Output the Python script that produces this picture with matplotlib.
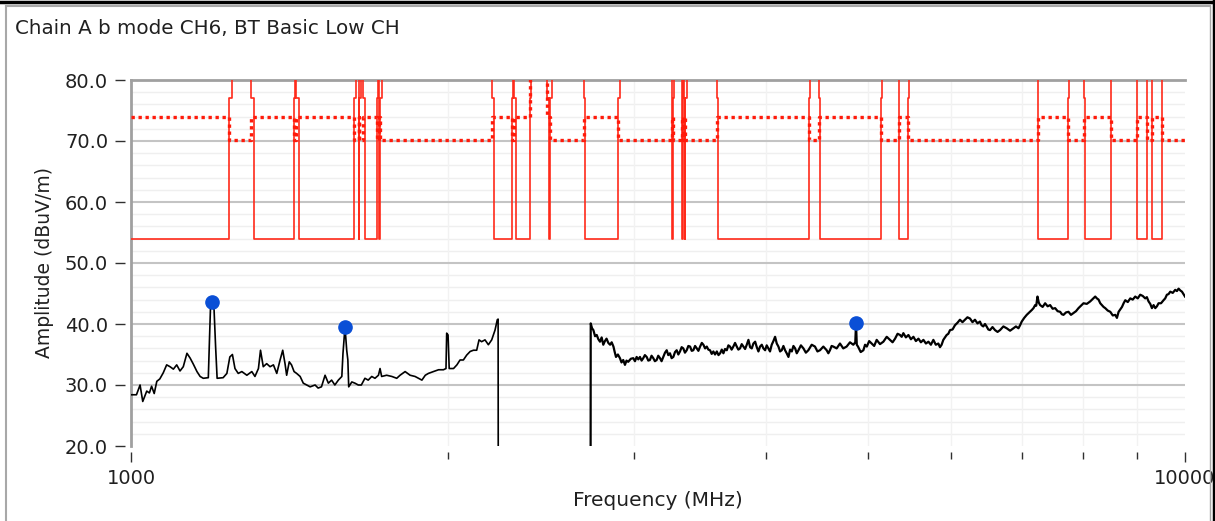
import matplotlib
matplotlib.use("Agg")
import matplotlib.pyplot as plt
import matplotlib.ticker as mticker
from matplotlib.lines import Line2D
import numpy as np

# ---------------- data ----------------
title = "Chain A b mode CH6, BT Basic Low CH"
x_label = "Frequency (MHz)"
y_label = "Amplitude (dBuV/m)"

# measured trace (MHz, dBuV/m), part below the notch
trace_lo = [
    (1001, 28.4), (1012, 28.4), (1020, 30.0), (1026, 27.3), (1035, 29.0), (1041, 28.7),
    (1046, 29.8), (1052, 28.6), (1058, 30.6), (1065, 31.0), (1073, 32.0), (1081, 33.3),
    (1089, 33.0), (1097, 32.6), (1105, 33.3), (1113, 32.3), (1121, 33.0), (1130, 35.2),
    (1138, 34.4), (1146, 33.4), (1155, 32.2), (1163, 31.4), (1171, 31.1), (1184, 31.2),
    (1187, 37.4), (1190, 43.4), (1193, 43.6), (1199, 42.3), (1203, 36.3), (1207, 31.1),
    (1223, 31.2), (1233, 31.9), (1241, 34.6), (1248, 35.0), (1255, 32.7), (1264, 31.9),
    (1274, 32.2), (1288, 31.6), (1302, 32.2), (1311, 31.4), (1321, 32.7), (1327, 35.7),
    (1335, 33.0), (1345, 33.5), (1355, 33.0), (1365, 33.3), (1375, 31.9), (1385, 34.1),
    (1393, 35.7), (1400, 33.5), (1405, 31.6), (1413, 33.8), (1420, 33.3), (1428, 32.2),
    (1436, 31.9), (1447, 31.4), (1457, 30.3), (1468, 30.0), (1479, 29.7), (1495, 30.0),
    (1505, 29.5), (1516, 29.7), (1528, 31.6), (1539, 30.3), (1550, 30.8), (1561, 30.0),
    (1573, 30.8), (1585, 31.4), (1589, 35.2), (1596, 39.5), (1602, 35.7), (1606, 34.1),
    (1609, 29.7), (1620, 30.5), (1631, 30.3), (1643, 30.0), (1654, 30.0), (1667, 31.1),
    (1679, 30.8), (1692, 31.4), (1704, 31.1), (1717, 31.6), (1723, 32.7), (1729, 31.4),
    (1748, 31.6), (1768, 31.4), (1787, 31.1), (1800, 31.6), (1820, 32.2), (1840, 31.6),
    (1860, 31.4), (1874, 31.1), (1888, 30.8), (1902, 31.6), (1915, 31.9), (1936, 32.2),
    (1958, 32.5), (1979, 32.5), (1990, 32.7), (1993, 38.5), (1999, 38.2), (2004, 32.7),
    (2023, 32.7), (2038, 33.3), (2052, 34.1), (2067, 34.1), (2082, 34.9), (2098, 35.5),
    (2113, 35.7), (2128, 35.7), (2139, 37.4), (2151, 37.1), (2167, 37.4), (2183, 36.6),
    (2199, 37.4), (2215, 39.0), (2226, 40.7), (2230, 40.8), (2231, 5.0),
]

# measured trace, part above the notch
trace_hi = [
    (2729, 5.0), (2730, 40.1), (2738, 39.3), (2746, 39.0), (2756, 38.0), (2766, 38.2),
    (2776, 37.5), (2786, 37.1), (2796, 37.8), (2806, 36.6), (2816, 37.2), (2826, 37.6),
    (2837, 36.9), (2848, 36.6), (2858, 37.0), (2869, 36.3), (2877, 35.4), (2885, 34.6),
    (2897, 35.0), (2910, 34.4), (2920, 33.7), (2931, 34.1), (2942, 33.3), (2952, 34.0),
    (2963, 33.8), (2980, 34.3), (2996, 34.4), (3007, 33.9), (3018, 34.6), (3029, 34.2),
    (3040, 34.6), (3051, 34.0), (3062, 34.4), (3073, 34.9), (3085, 34.6), (3096, 34.0),
    (3107, 34.1), (3118, 34.8), (3130, 34.4), (3141, 33.9), (3153, 34.1), (3164, 34.8),
    (3176, 34.4), (3187, 33.9), (3199, 34.6), (3211, 35.3), (3223, 35.7), (3234, 34.9),
    (3246, 35.2), (3258, 34.4), (3270, 34.6), (3282, 35.4), (3294, 35.7), (3306, 35.0),
    (3318, 35.5), (3330, 36.2), (3342, 36.0), (3354, 35.3), (3367, 35.7), (3379, 36.4),
    (3392, 36.3), (3404, 35.6), (3416, 35.7), (3429, 36.4), (3442, 36.0), (3454, 35.6),
    (3467, 36.3), (3480, 36.9), (3492, 36.6), (3505, 36.0), (3518, 36.3), (3530, 35.8),
    (3543, 35.7), (3556, 35.1), (3569, 35.5), (3582, 35.0), (3596, 35.5), (3609, 34.9),
    (3622, 35.2), (3635, 35.8), (3648, 35.2), (3661, 35.9), (3675, 35.7), (3688, 36.5),
    (3701, 36.3), (3714, 35.8), (3728, 36.3), (3742, 36.9), (3756, 36.3), (3769, 35.8),
    (3783, 36.0), (3797, 36.7), (3811, 36.3), (3825, 35.9), (3839, 36.6), (3853, 37.4),
    (3867, 36.2), (3881, 36.0), (3895, 36.8), (3910, 37.1), (3924, 36.2), (3938, 35.5),
    (3952, 36.3), (3967, 36.6), (3981, 36.0), (3996, 35.7), (4010, 36.5), (4025, 36.0),
    (4039, 35.5), (4054, 36.6), (4069, 37.2), (4084, 37.9), (4099, 36.8), (4114, 36.3),
    (4129, 35.5), (4144, 35.7), (4159, 36.4), (4174, 35.7), (4189, 35.2), (4205, 34.6),
    (4220, 35.8), (4236, 35.5), (4251, 36.4), (4267, 36.0), (4282, 35.2), (4298, 35.7),
    (4321, 36.5), (4345, 36.0), (4368, 35.3), (4392, 35.7), (4424, 36.6), (4456, 36.3),
    (4480, 35.5), (4505, 35.7), (4538, 36.3), (4571, 35.7), (4588, 35.2), (4604, 35.7),
    (4621, 36.4), (4638, 36.3), (4672, 36.0), (4706, 36.8), (4740, 36.0), (4775, 36.3),
    (4810, 37.0), (4845, 36.6), (4866, 37.0), (4874, 40.1), (4882, 36.6), (4895, 36.3),
    (4924, 35.4), (4953, 35.7), (4971, 36.6), (4990, 36.3), (5016, 37.2), (5043, 36.8),
    (5071, 36.4), (5099, 37.4), (5136, 36.7), (5174, 37.1), (5212, 37.9), (5250, 37.4),
    (5279, 37.0), (5308, 37.6), (5337, 38.4), (5366, 38.2), (5385, 37.9), (5405, 38.5),
    (5435, 37.8), (5465, 38.2), (5495, 37.5), (5525, 37.9), (5555, 37.2), (5586, 37.6),
    (5616, 37.0), (5647, 37.4), (5678, 36.8), (5709, 37.1), (5740, 36.6), (5771, 37.4),
    (5802, 36.6), (5834, 36.8), (5855, 36.2), (5876, 36.6), (5898, 37.4), (5920, 37.8),
    (5941, 38.2), (5963, 38.4), (5985, 39.0), (6018, 39.1), (6050, 39.8), (6083, 40.2),
    (6116, 40.7), (6150, 40.3), (6183, 40.7), (6217, 41.1), (6252, 40.9), (6286, 40.3),
    (6320, 40.7), (6355, 40.1), (6389, 40.4), (6412, 39.8), (6436, 39.6), (6460, 40.0),
    (6483, 39.6), (6507, 39.1), (6531, 39.0), (6567, 39.5), (6603, 39.0), (6640, 38.7),
    (6676, 39.0), (6725, 39.6), (6774, 39.3), (6824, 38.9), (6874, 39.3), (6912, 39.6),
    (6950, 39.3), (6975, 39.8), (7000, 40.4), (7038, 41.0), (7077, 41.5), (7116, 41.9),
    (7156, 42.3), (7182, 42.6), (7208, 43.1), (7225, 43.0), (7245, 44.5), (7266, 43.5),
    (7287, 43.1), (7327, 42.8), (7367, 43.4), (7408, 42.9), (7448, 43.1), (7489, 42.5),
    (7530, 42.6), (7571, 42.1), (7613, 42.0), (7641, 41.6), (7669, 41.5), (7711, 41.9),
    (7753, 42.0), (7795, 41.5), (7838, 41.8), (7881, 42.1), (7924, 42.6), (7967, 43.0),
    (8011, 43.4), (8070, 43.3), (8129, 43.7), (8174, 44.1), (8219, 44.5), (8249, 44.2),
    (8279, 44.0), (8310, 43.4), (8340, 43.1), (8370, 42.8), (8401, 42.6), (8447, 42.2),
    (8494, 42.0), (8540, 41.4), (8587, 41.5), (8618, 41.0), (8650, 42.0), (8682, 42.4),
    (8714, 42.8), (8745, 43.4), (8777, 43.9), (8825, 43.6), (8873, 44.2), (8921, 44.0),
    (8970, 44.5), (9019, 44.2), (9068, 44.8), (9118, 44.6), (9168, 44.2), (9201, 44.4),
    (9235, 43.7), (9269, 43.3), (9303, 42.6), (9337, 43.1), (9371, 42.6), (9405, 42.9),
    (9439, 43.4), (9490, 43.4), (9542, 43.9), (9577, 44.2), (9612, 44.8), (9647, 44.9),
    (9683, 45.3), (9736, 45.1), (9789, 45.6), (9825, 45.4), (9861, 45.8), (9898, 45.5),
    (9934, 45.3), (9967, 44.9), (10000, 44.5),
]

# peak markers
marker_freq = [1193, 1596, 4874]
marker_amp = [43.6, 39.5, 40.1]

# restricted bands (MHz): limit 54 avg / 74 peak inside
restricted_lo = [960, 1300, 1435, 1645.5, 1660, 1718.8, 2200, 2310, 2483.5, 2690,
                 3260, 3332, 3345.8, 3600, 4500, 5350, 7250, 8025, 9000, 9300]
restricted_hi = [1240, 1427, 1626.5, 1646.5, 1710, 1722.2, 2300, 2390, 2500, 2900,
                 3267, 3339, 3358, 4400, 5150, 5460, 7750, 8500, 9200, 9500]
# band of the fundamental (limits off scale)
fund_band = [2390, 2483.5]

avg_restricted, avg_open, avg_edge = 54.0, 100.0, 77.0
pk_restricted, pk_open, pk_fund = 74.0, 70.2, 100.0

f_min, f_max = 1000, 10000
y_min, y_max = 20, 80


def band_state(a, b):
    m = 0.5 * (a + b)
    if any(lo <= m <= hi for lo, hi in zip(restricted_lo, restricted_hi)):
        return "r"
    if fund_band[0] <= m <= fund_band[1]:
        return "f"
    return "o"


edges = sorted(set([f_min, f_max] + [e for e in restricted_lo + restricted_hi + fund_band
                                     if f_min < e < f_max]))
intervals = [(edges[i], edges[i + 1]) for i in range(len(edges) - 1)]
states = [band_state(a, b) for a, b in intervals]


def build(values, edge_level=None, delta=8.0):
    xs, ys = [], []
    prev = None
    for (a, b), s in zip(intervals, states):
        v = values[s]
        if prev is None:
            xs += [a]; ys += [v]
        elif v != prev:
            if edge_level is not None:
                d = min(delta, (b - a) / 2.0)
                xs += [a, a, a + d, a + d]
                ys += [prev, edge_level, edge_level, v]
            else:
                xs += [a, a]
                ys += [prev, v]
        xs += [b]; ys += [v]
        prev = v
    return xs, ys


avg_x, avg_y = build({"r": avg_restricted, "o": avg_open, "f": avg_open}, avg_edge)
pk_x, pk_y = build({"r": pk_restricted, "o": pk_open, "f": pk_fund})

lo_f, lo_a = zip(*trace_lo)
hi_f, hi_a = zip(*trace_hi)

# ---------------- figure ----------------
plt.rcParams['font.family'] = ['DejaVu Sans']
W, H = 1215, 521
fig = plt.figure(figsize=(W / 100, H / 100), dpi=100)
fig.patch.set_facecolor("white")

ax = fig.add_axes([131 / W, 1 - 446 / H, (1185 - 131) / W, (446 - 80) / H])
ax.set_xscale("log")
ax.set_xlim(f_min, f_max)
ax.set_ylim(y_min, y_max)

# grid
for v in np.arange(22, 80, 2):
    if v % 10:
        ax.axhline(v, color="#efefef", lw=1.0, zorder=0)
for v in range(30, 80, 10):
    ax.axhline(v, color="#c4c4c4", lw=1.5, zorder=0.5)
for f in range(2000, 10000, 1000):
    ax.axvline(f, color="#f2f2f2", lw=1.0, zorder=0)
ax.axhline(80, color="#a0a0a0", lw=2.0, zorder=0.6, clip_on=False)
ax.axvline(f_min, color="#a0a0a0", lw=2.0, zorder=0.6, clip_on=False)

# limit lines
ax.plot(avg_x, avg_y, color="#ff2a1a", lw=1.2, zorder=2)
ax.plot(pk_x, pk_y, color="#ff1a0a", lw=2.4, linestyle=(0, (1, 1.1)), zorder=2)

# trace
ax.plot(lo_f, lo_a, color="black", lw=1.2, zorder=3)
ax.plot(hi_f, hi_a, color="black", lw=1.6, zorder=3)
ax.plot(marker_freq, marker_amp, "o", color="#0a4fd6", ms=9.5, mec="#0a4fd6", zorder=4)

# axes / ticks
for s in ["top", "right", "bottom", "left"]:
    ax.spines[s].set_visible(False)
ax.spines["bottom"].set_position(("outward", 4))
ax.spines["left"].set_position(("outward", 4))

ax.yaxis.set_major_locator(mticker.FixedLocator([20, 30, 40, 50, 60, 70, 80]))
ax.yaxis.set_major_formatter(mticker.FormatStrFormatter("%.1f"))
ax.yaxis.set_minor_locator(mticker.NullLocator())
ax.xaxis.set_major_locator(mticker.FixedLocator([1000, 10000]))
ax.xaxis.set_major_formatter(mticker.FixedFormatter(["1000", "10000"]))
ax.xaxis.set_minor_locator(mticker.FixedLocator(list(range(2000, 10000, 1000))))
ax.xaxis.set_minor_formatter(mticker.NullFormatter())

ax.tick_params(axis="y", which="major", length=7.5, width=1.0, color="#303030",
               pad=5, labelsize=14, labelcolor="#202020")
ax.tick_params(axis="x", which="major", length=7.5, width=1.0, color="#303030",
               pad=5, labelsize=14, labelcolor="#202020")
ax.tick_params(axis="x", which="minor", length=5, width=1.0, color="#303030")

ax.set_xlabel(x_label, fontsize=14.5, color="#202020", labelpad=2)
ax.set_ylabel(y_label, fontsize=13.5, color="#202020", labelpad=8)

fig.text(15 / W, 1 - 28 / H, title, fontsize=14.3, color="#202020", va="center", ha="left")

# outer frame
fig.add_artist(Line2D([6 / W, 6 / W], [0, 1 - 6 / H], color="#a8a8a8", lw=1.5))
fig.add_artist(Line2D([6 / W, 1210 / W], [1 - 6 / H, 1 - 6 / H], color="#a8a8a8", lw=1.5))
fig.add_artist(Line2D([1210 / W, 1210 / W], [0, 1 - 6 / H], color="#a8a8a8", lw=1.0))
fig.add_artist(Line2D([1213.5 / W, 1213.5 / W], [0, 1], color="black", lw=2.5))
fig.add_artist(Line2D([0, 1], [1 - 1.5 / H, 1 - 1.5 / H], color="black", lw=2.5))

fig.savefig("out.png", dpi=100, facecolor="white")
